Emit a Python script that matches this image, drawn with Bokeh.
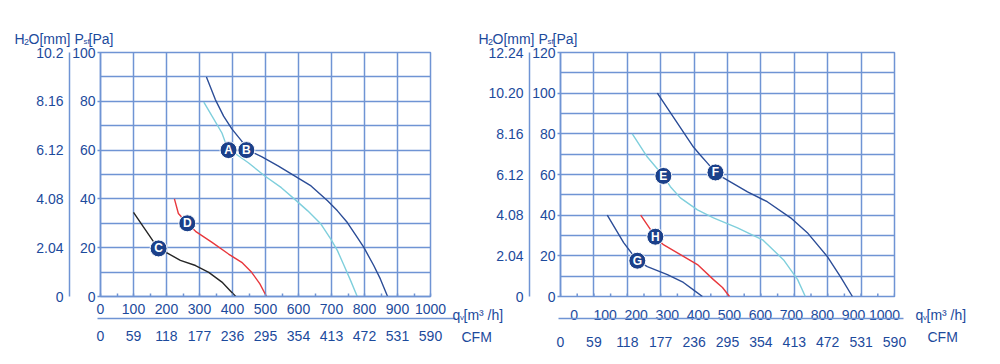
import math
from bokeh.plotting import figure
from bokeh.models import Range1d, LinearAxis, FixedTicker, Grid, Label
from bokeh.layouts import row, column
from bokeh.embed import file_html
from bokeh.resources import INLINE
from bokeh.core.properties import value

FONT = "Liberation Sans"
TEXT = "#1c4a9c"
GRID = "#6f94d4"
NAVY = "#2c4d97"
CYAN = "#7fcfdc"
RED = "#e8383d"
BLACK = "#262626"
MARK = "#1b408a"

# ---------------- axes / ticks ----------------
qv_ticks = [0, 100, 200, 300, 400, 500, 600, 700, 800, 900, 1000]
cfm_ticks = [0, 59, 118, 177, 236, 295, 354, 413, 472, 531, 590]

left_pa_ticks = [0, 20, 40, 60, 80, 100]
left_h2o_ticks = [0, 2.04, 4.08, 6.12, 8.16, 10.2]
left_h2o_labels = ["0", "2.04", "4.08", "6.12", "8.16", "10.2"]

right_pa_ticks = [0, 20, 40, 60, 80, 100, 120]
right_h2o_ticks = [0, 2.04, 4.08, 6.12, 8.16, 10.2, 12.24]
right_h2o_labels = ["0", "2.04", "4.08", "6.12", "8.16", "10.20", "12.24"]

# ---------------- left chart curves (qv m3/h, Psf Pa) ----------------
a_q = [313, 338, 368, 386, 408, 448, 498, 548, 588, 628, 668, 698, 718, 738, 758, 778]
a_p = [79.7, 73.9, 67, 60.3, 58.6, 54.8, 49.4, 44.6, 39.9, 35.1, 29.7, 23.5, 18.8, 12.7, 6.5, 0]
b_q = [321, 348, 373, 398, 428, 443, 488, 538, 588, 638, 688, 718, 748, 778, 798, 828, 848, 870]
b_p = [90, 80.7, 73.9, 68.7, 63.7, 60.3, 57.3, 53.5, 49.4, 45.3, 39.2, 35.1, 30.3, 24.2, 20.1, 12.7, 7.2, 0]
c_q = [100, 130, 158, 176, 200, 242, 288, 328, 368, 393, 410]
c_p = [34.5, 28.5, 23, 19.7, 18, 14.8, 12.7, 9.9, 5.9, 2.4, 0]
d_q = [224, 236, 263, 288, 338, 388, 428, 458, 483, 503]
d_p = [40, 34, 30, 26.7, 22.2, 17.4, 14, 9.9, 5.2, 0]

left_mark_letters = ["A", "B", "C", "D"]
left_mark_q = [388, 442, 176, 263]
left_mark_p = [60, 60, 19.7, 30]

# ---------------- right chart curves ----------------
e_q = [215, 260, 308, 329, 359, 410, 458, 530, 605, 668, 710, 733]
e_p = [80, 68.6, 59.3, 54, 48.5, 42.6, 38.7, 33.8, 27.9, 18, 8.3, 0]
f_q = [290, 344, 398, 419, 440, 464, 488, 560, 619, 689, 739, 799, 838, 874]
f_p = [100, 86.7, 73.5, 69.5, 65.6, 61, 58.3, 51.5, 46.6, 38.7, 31.4, 19.6, 9.8, 0]
g_q = [140, 189, 230, 260, 320, 368, 404, 425]
g_p = [40, 26.5, 17.6, 14.7, 10.8, 6.9, 2.5, 0]
h_q = [240, 284, 308, 359, 410, 458, 485, 506]
h_p = [40, 29.4, 25.5, 20.6, 15.7, 8.3, 4.4, 0]

right_mark_letters = ["E", "F", "G", "H"]
right_mark_q = [308, 464, 230, 284]
right_mark_p = [59.3, 61, 17.6, 29.4]

# ---------------- free texts / rules (page pixel positions) ----------------
title_x = [14, 478]          # left edge of "H2O[mm] Psf[Pa]" for each chart
title_base = 38
units_q_x = [452, 915]       # left edge of "qv [m3 /h]"
units_cfm_x = [461, 927]
units_base = 314
cfm_base = 336
rule_x0 = [97, 558]          # separator line between the m3/h and CFM scales
rule_x1 = [455, 903]
rule_y = 318

PAGE_W, PAGE_H = 992, 356


def build(pa_max, pa_ticks, h2o_max, h2o_ticks, h2o_labels, curves,
          mq, mp, letters, width, left, right, bottom, qv_label_range=None):
    p = figure(width=width, height=PAGE_H, x_range=Range1d(0, 1000), y_range=Range1d(0, pa_max),
               x_axis_type=None, y_axis_type=None, output_backend="svg", toolbar_location=None,
               min_border_left=left, min_border_right=right, min_border_top=52,
               min_border_bottom=bottom)
    p.border_fill_color = None
    p.background_fill_color = "white"
    p.outline_line_color = GRID
    p.outline_line_width = 1.5
    p.extra_y_ranges = {"h2o": Range1d(0, h2o_max)}
    p.extra_x_ranges = {"cfm": Range1d(0, 590)}

    p.add_layout(Grid(dimension=0, ticker=FixedTicker(ticks=qv_ticks),
                      grid_line_color=GRID, grid_line_width=1.5))
    p.add_layout(Grid(dimension=1, ticker=FixedTicker(ticks=list(range(0, pa_max + 1, 10))),
                      grid_line_color=GRID, grid_line_width=1.5))

    def style(ax, standoff):
        ax.axis_line_color = GRID
        ax.axis_line_width = 1.5
        ax.major_label_text_font = FONT
        ax.major_label_text_font_size = "14px"
        ax.major_label_text_color = TEXT
        ax.major_label_standoff = standoff
        ax.major_tick_line_color = GRID
        ax.minor_tick_line_color = GRID
        ax.major_tick_line_width = 1.5
        ax.minor_tick_line_width = 1.5

    pa_axis = LinearAxis(ticker=FixedTicker(ticks=pa_ticks))
    style(pa_axis, 2)
    pa_axis.major_tick_out = 3
    pa_axis.major_tick_in = 0
    p.add_layout(pa_axis, "left")

    h2o_axis = LinearAxis(y_range_name="h2o", ticker=FixedTicker(ticks=h2o_ticks),
                          major_label_overrides=dict(zip(h2o_ticks, h2o_labels)))
    style(h2o_axis, 6)
    h2o_axis.major_tick_out = 0
    h2o_axis.major_tick_in = 0
    p.add_layout(h2o_axis, "left")

    minor = [t + 50 for t in qv_ticks[:-1]]
    if qv_label_range is None:
        qv_axis = LinearAxis(ticker=FixedTicker(ticks=qv_ticks, minor_ticks=minor))
        style(qv_axis, 7)
        qv_axis.major_tick_in = 3
        qv_axis.major_tick_out = 0
        qv_axis.minor_tick_in = 3
        qv_axis.minor_tick_out = 0
        p.add_layout(qv_axis, "below")
    else:
        # this chart prints its qv labels slightly shifted from the grid lines
        p.extra_x_ranges["qvlab"] = Range1d(*qv_label_range)
        lab_axis = LinearAxis(x_range_name="qvlab", ticker=FixedTicker(ticks=qv_ticks))
        style(lab_axis, 7)
        lab_axis.axis_line_color = None
        lab_axis.major_tick_line_color = None
        lab_axis.minor_tick_line_color = None
        p.add_layout(lab_axis, "below")
        # small inward tick marks on the bottom edge (lower half is clipped by the frame)
        tick_x = sorted(qv_ticks + minor)
        p.scatter(tick_x, [0] * len(tick_x), marker="dash", angle=math.pi / 2, size=6,
                  line_color=GRID, line_width=1.5)

    cfm_axis = LinearAxis(x_range_name="cfm", ticker=FixedTicker(ticks=cfm_ticks))
    style(cfm_axis, 14)
    cfm_axis.axis_line_color = None
    cfm_axis.major_tick_out = 0
    cfm_axis.major_tick_in = 0
    p.add_layout(cfm_axis, "below")

    for q, pr, col in curves:
        p.line(q, pr, line_color=col, line_width=1.4)

    p.scatter(mq, mp, size=17, fill_color=MARK, line_color="white", line_width=1)
    p.text(mq, mp, text=letters, text_align="center", text_baseline="middle",
           text_color="white", text_font=value(FONT), text_font_style="bold",
           text_font_size="12px")
    return p


p1 = build(100, left_pa_ticks, 10.2, left_h2o_ticks, left_h2o_labels,
           [(c_q, c_p, BLACK), (d_q, d_p, RED), (a_q, a_p, CYAN), (b_q, b_p, NAVY)],
           left_mark_q, left_mark_p, left_mark_letters,
           width=528, left=100, right=98, bottom=60)

p2 = build(120, right_pa_ticks, 12.24, right_h2o_ticks, right_h2o_labels,
           [(g_q, g_p, NAVY), (h_q, h_p, RED), (e_q, e_p, CYAN), (f_q, f_p, NAVY)],
           right_mark_q, right_mark_p, right_mark_letters,
           width=514, left=82, right=98, bottom=59, qv_label_range=(-44, 1032))
p2.margin = (0, 0, 0, -50)

# transparent overlay for the free-standing unit texts (y axis pointing down = page pixels)
ov = figure(width=PAGE_W, height=PAGE_H, x_range=Range1d(0, PAGE_W), y_range=Range1d(PAGE_H, 0),
            x_axis_type=None, y_axis_type=None, output_backend="svg", toolbar_location=None,
            min_border=0)
ov.outline_line_color = None
ov.background_fill_color = None
ov.border_fill_color = None
ov.margin = (-PAGE_H, 0, 0, 0)

ov.segment(x0=rule_x0, y0=[rule_y] * 2, x1=rule_x1, y1=[rule_y] * 2,
           line_color=GRID, line_width=1.5)


def txt(x, y, text, size):
    ov.add_layout(Label(x=x, y=y, text=text, text_font=FONT, text_font_size=size,
                        text_color=TEXT, text_align="left", text_baseline="alphabetic"))


for x0 in title_x:
    txt(x0, title_base, "H", "14px")
    txt(x0 + 9.5, title_base + 3, "2", "9px")
    txt(x0 + 14, title_base, "O[mm]", "14px")
    txt(x0 + 60, title_base, "P", "14px")
    txt(x0 + 69, title_base + 3, "sf", "8px")
    txt(x0 + 74, title_base, "[Pa]", "14px")

for xq, xc in zip(units_q_x, units_cfm_x):
    txt(xq, units_base, "q", "14px")
    txt(xq + 7.5, units_base + 3, "v", "8px")
    txt(xq + 11, units_base, "[m³ /h]", "14px")
    txt(xc, cfm_base, "CFM", "14px")

layout = column(row(p1, p2), ov)
open("out.html", "w").write(file_html(layout, INLINE))
